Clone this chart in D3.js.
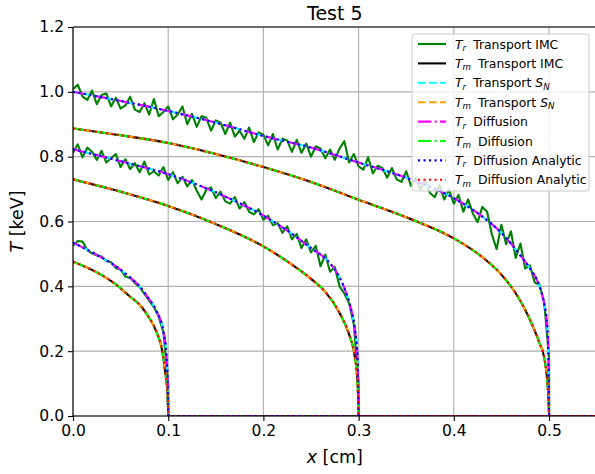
<!DOCTYPE html>
<html>
<head>
<meta charset="utf-8">
<script src="https://cdn.jsdelivr.net/npm/d3@7/dist/d3.min.js"></script>
<style>
  html, body { margin: 0; padding: 0; background: #fff; }
  svg { display: block; font-family: "DejaVu Sans", sans-serif; }
</style>
</head>
<body>
<div id="chart"></div>
<script>
// ---- data ----
const xTicks = [0.0, 0.1, 0.2, 0.3, 0.4, 0.5];
const yTicks = [0.0, 0.2, 0.4, 0.6, 0.8, 1.0, 1.2];
const xMax = 0.55;

// smooth profiles (S_N, diffusion, analytic and T_m IMC all sit on these)
const xFront1 = [0, 0.025, 0.045, 0.06, 0.07, 0.078, 0.088, 0.095, 0.098, 0.0995, 0.1001];
const trFront1 = [0.535, 0.497, 0.462, 0.427, 0.400, 0.368, 0.322, 0.260, 0.190, 0.100, 0];
const xFront1m = [0, 0.025, 0.045, 0.06, 0.07, 0.078, 0.088, 0.0935, 0.097, 0.0995, 0.1001];
const tmFront1 = [0.476, 0.443, 0.406, 0.368, 0.343, 0.312, 0.257, 0.204, 0.132, 0.060, 0];

const xFront3 = [0, 0.05, 0.1, 0.15, 0.2, 0.23, 0.25, 0.265, 0.275, 0.285, 0.292, 0.296, 0.299, 0.3001];
const trFront3 = [0.823, 0.786, 0.746, 0.690, 0.618, 0.562, 0.518, 0.486, 0.452, 0.395, 0.330, 0.270, 0.170, 0];
const xFront3m = [0, 0.05, 0.1, 0.15, 0.2, 0.23, 0.25, 0.265, 0.28, 0.29, 0.295, 0.299, 0.3001];
const tmFront3 = [0.730, 0.692, 0.648, 0.592, 0.523, 0.467, 0.423, 0.383, 0.318, 0.252, 0.200, 0.100, 0];

const xFront5 = [0, 0.05, 0.1, 0.15, 0.2, 0.25, 0.3, 0.35, 0.4, 0.43, 0.45, 0.47, 0.48, 0.49, 0.495, 0.498, 0.4995, 0.5001];
const trFront5 = [1.000, 0.972, 0.941, 0.905, 0.864, 0.828, 0.782, 0.735, 0.672, 0.615, 0.565, 0.495, 0.455, 0.400, 0.345, 0.280, 0.170, 0];
const tmFront5 = [0.887, 0.866, 0.842, 0.808, 0.768, 0.722, 0.667, 0.613, 0.548, 0.490, 0.436, 0.355, 0.297, 0.225, 0.180, 0.115, 0.050, 0];

// noisy T_r from IMC, cells of width 0.005 starting at x = 0, last cell sits on the front
const imcDx = 0.005;
const imcFront1 = [0.525, 0.540, 0.538, 0.512, 0.502, 0.495, 0.492, 0.478, 0.474, 0.456,
  0.452, 0.430, 0.426, 0.410, 0.398, 0.377, 0.356, 0.336, 0.306, 0.258, 0.100];
const imcFront3 = [0.812, 0.838, 0.798, 0.828, 0.815, 0.790, 0.818, 0.782, 0.795, 0.808,
  0.768, 0.792, 0.762, 0.780, 0.752, 0.785, 0.745, 0.755, 0.742, 0.768,
  0.728, 0.752, 0.718, 0.738, 0.708, 0.728, 0.695, 0.668, 0.698, 0.705,
  0.672, 0.692, 0.662, 0.655, 0.675, 0.640, 0.660, 0.630, 0.622, 0.638,
  0.605, 0.618, 0.588, 0.595, 0.565, 0.585, 0.545, 0.562, 0.518, 0.545,
  0.505, 0.525, 0.462, 0.498, 0.445, 0.460, 0.400, 0.378, 0.348, 0.282, 0.100];
const imcFront5 = [1.008, 1.022, 0.985, 0.975, 1.004, 0.962, 0.990, 0.995, 0.955, 0.982,
  0.948, 0.958, 0.985, 0.945, 0.938, 0.965, 0.930, 0.978, 0.925, 0.938,
  0.955, 0.915, 0.930, 0.955, 0.900, 0.932, 0.892, 0.925, 0.920, 0.880,
  0.912, 0.905, 0.870, 0.905, 0.862, 0.880, 0.855, 0.890, 0.845, 0.875,
  0.868, 0.835, 0.870, 0.822, 0.855, 0.850, 0.815, 0.852, 0.812, 0.840,
  0.800, 0.832, 0.825, 0.795, 0.822, 0.790, 0.825, 0.848, 0.782, 0.808,
  0.770, 0.760, 0.798, 0.748, 0.772, 0.765, 0.735, 0.765, 0.730, 0.722,
  0.755, 0.710, 0.735, 0.698, 0.728, 0.688, 0.675, 0.712, 0.668, 0.698,
  0.655, 0.682, 0.630, 0.668, 0.625, 0.598, 0.645, 0.630, 0.560, 0.515,
  0.590, 0.530, 0.570, 0.488, 0.532, 0.455, 0.465, 0.412, 0.405, 0.350, 0.180];

// ---- layout ----
const width = 595, height = 474;
const margin = { left: 73, top: 27, bottom: 58 };
const plotRight = 73 + xMax * 952;

const svg = d3.select('#chart')
  .append('svg')
  .attr('width', width)
  .attr('height', height);

svg.append('rect').attr('width', width).attr('height', height).attr('fill', '#fff');

const x = d3.scaleLinear().domain([0, xMax]).range([margin.left, plotRight]);
const y = d3.scaleLinear().domain([0, 1.2]).range([height - margin.bottom, margin.top]);

svg.append('clipPath').attr('id', 'clip')
  .append('rect')
  .attr('x', x(0)).attr('y', y(1.2))
  .attr('width', x(xMax) - x(0)).attr('height', y(0) - y(1.2));

// grid
const grid = svg.append('g').attr('stroke', '#b0b0b0').attr('stroke-width', 1.1);
grid.selectAll('.gx').data(xTicks).join('line')
  .attr('x1', d => x(d)).attr('x2', d => x(d))
  .attr('y1', y(0)).attr('y2', y(1.2));
grid.selectAll('.gy').data(yTicks).join('line')
  .attr('x1', x(0)).attr('x2', x(xMax))
  .attr('y1', d => y(d)).attr('y2', d => y(d));

// helpers to build point lists
function zip(xs, ts) {
  const pts = xs.map((v, i) => [v, ts[i]]);
  pts.push([xMax, 0]);
  return pts;
}
function cells(ts) {
  const pts = ts.map((v, i) => [i * imcDx, v]);
  const front = (ts.length - 1) * imcDx;
  pts.push([front + 0.0003, 0]);
  pts.push([xMax, 0]);
  return pts;
}

const trSmooth = [zip(xFront1, trFront1), zip(xFront3, trFront3), zip(xFront5, trFront5)];
const tmSmooth = [zip(xFront1m, tmFront1), zip(xFront3m, tmFront3), zip(xFront5, tmFront5)];
const trImc = [cells(imcFront1), cells(imcFront3), cells(imcFront5)];

const lw = 2.1;
const series = [
  { name: 'r', label: 'Transport IMC', color: 'green', dash: null, data: trImc, curve: d3.curveLinear },
  { name: 'm', label: 'Transport IMC', color: 'black', dash: null, data: tmSmooth },
  { name: 'r', label: 'Transport', sn: true, color: 'cyan', dash: '7.7,3.3', data: trSmooth },
  { name: 'm', label: 'Transport', sn: true, color: 'orange', dash: '7.7,3.3', data: tmSmooth },
  { name: 'r', label: 'Diffusion', color: 'magenta', dash: '13.3,3.3,2.1,3.3', data: trSmooth },
  { name: 'm', label: 'Diffusion', color: 'lime', dash: '13.3,3.3,2.1,3.3', data: tmSmooth },
  { name: 'r', label: 'Diffusion Analytic', color: 'blue', dash: '2.1,3.4', data: trSmooth },
  { name: 'm', label: 'Diffusion Analytic', color: 'red', dash: '2.1,3.4', data: tmSmooth }
];

const lines = svg.append('g').attr('clip-path', 'url(#clip)');
series.forEach(s => {
  const line = d3.line()
    .x(d => x(d[0]))
    .y(d => y(d[1]))
    .curve(s.curve || d3.curveMonotoneX);
  lines.append('g').selectAll('path')
    .data(s.data)
    .join('path')
    .attr('d', line)
    .attr('fill', 'none')
    .attr('stroke', s.color)
    .attr('stroke-width', lw)
    .attr('stroke-linejoin', 'round')
    .attr('stroke-dasharray', s.dash);
});

// axes
const tickFont = 15.5;
const xAxis = svg.append('g')
  .attr('transform', `translate(0,${y(0)})`)
  .call(d3.axisBottom(x).tickValues(xTicks).tickFormat(d3.format('.1f')).tickSize(5).tickPadding(4).tickSizeOuter(0));
const yAxis = svg.append('g')
  .attr('transform', `translate(${x(0)},0)`)
  .call(d3.axisLeft(y).tickValues(yTicks).tickFormat(d3.format('.1f')).tickSize(5).tickPadding(4).tickSizeOuter(0));
[xAxis, yAxis].forEach(a => {
  a.select('.domain').remove();
  a.selectAll('line').attr('stroke', '#000').attr('stroke-width', 1.1);
  a.selectAll('text').attr('font-size', tickFont).attr('fill', '#000')
    .attr('font-family', '"DejaVu Sans", sans-serif');
});

// spines (left, bottom, top)
const spines = svg.append('g').attr('stroke', '#000').attr('stroke-width', 1.1);
spines.append('line').attr('x1', x(0)).attr('x2', x(0)).attr('y1', y(0)).attr('y2', y(1.2));
spines.append('line').attr('x1', x(0)).attr('x2', x(xMax)).attr('y1', y(0)).attr('y2', y(0));
spines.append('line').attr('x1', x(0)).attr('x2', x(xMax)).attr('y1', y(1.2)).attr('y2', y(1.2));

// title and axis labels
svg.append('text')
  .attr('x', (x(0) + x(xMax)) / 2)
  .attr('y', 20)
  .attr('text-anchor', 'middle')
  .attr('font-size', 19)
  .text('Test 5');

const xl = svg.append('text')
  .attr('x', (x(0) + x(xMax)) / 2)
  .attr('y', 463)
  .attr('text-anchor', 'middle')
  .attr('font-size', 17.5);
xl.append('tspan').attr('font-style', 'italic').text('x');
xl.append('tspan').text(' [cm]');

const yl = svg.append('text')
  .attr('transform', `translate(23,${(y(0) + y(1.2)) / 2}) rotate(-90)`)
  .attr('text-anchor', 'middle')
  .attr('font-size', 17.5);
yl.append('tspan').attr('font-style', 'italic').text('T');
yl.append('tspan').text(' [keV]');

// legend
const legend = svg.append('g').attr('transform', 'translate(412,34)');
legend.append('rect')
  .attr('width', 177).attr('height', 157)
  .attr('rx', 3)
  .attr('fill', '#fff').attr('fill-opacity', 0.8)
  .attr('stroke', '#cccccc').attr('stroke-width', 1);

const rowH = 19.4;
const fs = 12.4;
series.forEach((s, i) => {
  const cy = 10 + i * rowH;
  legend.append('line')
    .attr('x1', 6).attr('x2', 34)
    .attr('y1', cy).attr('y2', cy)
    .attr('stroke', s.color).attr('stroke-width', lw)
    .attr('stroke-dasharray', s.dash);
  const t = legend.append('text')
    .attr('x', 43).attr('y', cy + 4.5)
    .attr('font-size', fs);
  t.append('tspan').attr('font-style', 'italic').text('T');
  t.append('tspan').attr('font-style', 'italic').attr('font-size', fs * 0.7).attr('dy', 2.5).text(s.name);
  t.append('tspan').attr('dy', -2.5).attr('dx', 7).text(s.label + ' ');
  if (s.sn) {
    t.append('tspan').attr('font-style', 'italic').text('S');
    t.append('tspan').attr('font-style', 'italic').attr('font-size', fs * 0.7).attr('dy', 2.5).text('N');
  }
});
</script>
</body>
</html>
